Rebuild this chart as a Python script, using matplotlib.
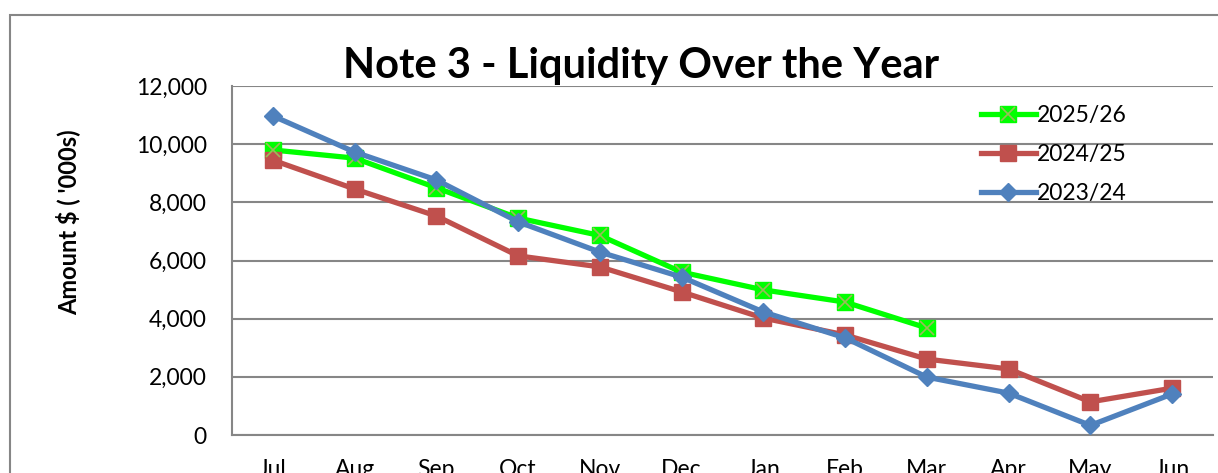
import matplotlib.pyplot as plt
from matplotlib.patches import Rectangle
from matplotlib.legend_handler import HandlerTuple

months = ["Jul", "Aug", "Sep", "Oct", "Nov", "Dec", "Jan", "Feb", "Mar", "Apr", "May", "Jun"]

fy2526 = [9800, 9520, 8500, 7460, 6860, 5600, 4990, 4570, 3680]
fy2425 = [9450, 8460, 7530, 6160, 5780, 4920, 4020, 3440, 2610, 2270, 1140, 1610]
fy2324 = [10970, 9730, 8770, 7330, 6290, 5430, 4230, 3340, 1990, 1440, 330, 1410]

plt.rcParams['font.family'] = ['Lato', 'DejaVu Sans']

fig = plt.figure(figsize=(12.18, 4.73), dpi=100)
# outer chart border (cropped at right and bottom)
fig.patches.append(Rectangle((10 / 1218, -0.5), 2, 0.5 + 1 - 15 / 473,
                             transform=fig.transFigure, fill=False,
                             edgecolor='#868686', linewidth=1.5))

ax = fig.add_axes([232 / 1218, 1 - 435 / 473, (1213 - 232) / 1218, (435 - 86) / 473])

x = list(range(len(months)))
g1, = ax.plot(x[:len(fy2526)], fy2526, color='#00FF00', lw=3.8, marker='s',
              ms=11, mec='#00FF00', mfc='#00FF00', zorder=3)
g2, = ax.plot(x[:len(fy2526)], fy2526, ls='none', marker='x', ms=10,
              mew=1.2, color='#9BBB59', zorder=4)
r1, = ax.plot(x, fy2425, color='#C0504D', lw=3.8, marker='s', ms=11, zorder=3)
b1, = ax.plot(x, fy2324, color='#4F81BD', lw=3.8, marker='D', ms=9.5, zorder=5)

ax.set_xlim(-0.5, len(months) - 0.5)
ax.set_ylim(0, 12000)
ax.set_yticks(range(0, 12001, 2000))
ax.set_yticklabels([f"{v:,}" for v in range(0, 12001, 2000)])
ax.set_xticks(x)
ax.set_xticklabels(months)
ax.tick_params(axis='both', length=0, labelsize=16.5)
ax.tick_params(axis='x', pad=17)
ax.tick_params(axis='y', pad=18)
ax.grid(axis='y', color='#868686', lw=1.5)
ax.set_axisbelow(True)
for s in ['top', 'right']:
    ax.spines[s].set_visible(False)
for s in ['left', 'bottom']:
    ax.spines[s].set_color('#868686')
    ax.spines[s].set_linewidth(1.5)

ax.set_ylabel("Amount $ ( '000s)", fontsize=17, fontweight='bold')
ax.yaxis.set_label_coords((80 - 232) / 981, (435 - 222) / 349)

fig.text(641 / 1218, 1 - 66 / 473, "Note 3 - Liquidity Over the Year",
         fontsize=30, fontweight='bold', ha='center', va='center')

ax.legend([(g1, g2), r1, b1], ["2025/26", "2024/25", "2023/24"],
          handler_map={tuple: HandlerTuple(ndivide=1, pad=0)},
          loc='upper left', bbox_to_anchor=(960 / 1218, 1 - 84 / 473),
          bbox_transform=fig.transFigure, frameon=False, fontsize=16.5,
          handlelength=2.4, handletextpad=0.05, labelspacing=0.8)

fig.savefig("out.png", dpi=100)
